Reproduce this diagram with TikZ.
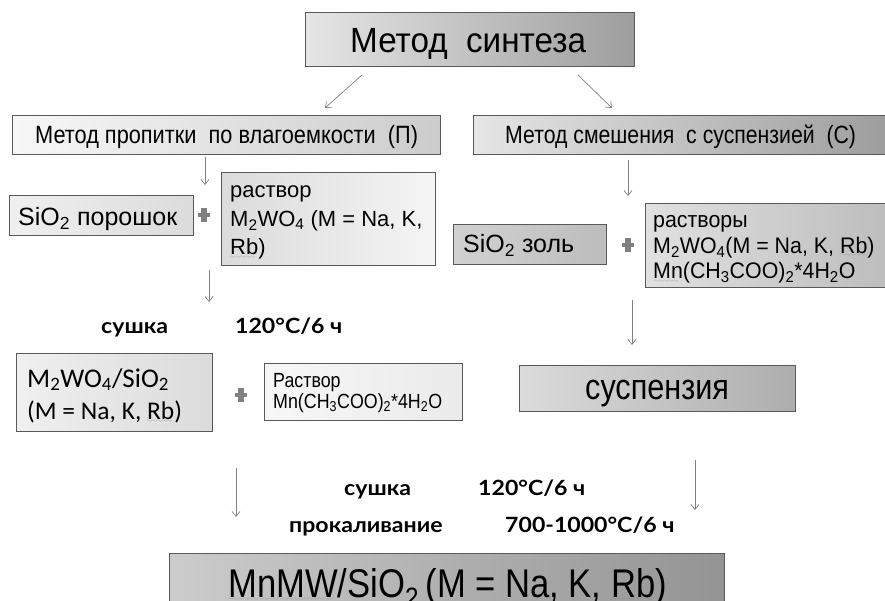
\documentclass[tikz,border=0pt]{standalone}
\usepackage{fontspec}
\setmainfont{Liberation Sans}
\newfontfamily\nrwA[FakeStretch=0.95]{Liberation Sans}
\newfontfamily\nrwB[FakeStretch=0.87]{Liberation Sans}
\newfontfamily\nrwC[FakeStretch=0.85]{Liberation Sans}
\newfontfamily\nrwD[FakeStretch=0.865]{Liberation Sans}
\newfontfamily\calib{Carlito}
\newfontfamily\lblfont[FakeStretch=1.1]{Lato Bold}
\font\wavyfont=lasy6
\newcommand\sqg[1]{\leavevmode\setbox0\hbox{#1}\rlap{\lower3.2pt\hbox to \wd0{\color{black!45}\leaders\hbox{\wavyfont\char58}\hfil}}\box0}
\usetikzlibrary{arrows.meta}
\tikzset{
  box/.style={draw=black!65, line width=1pt, rectangle, inner sep=0pt},
  darkbox/.style={box, left color=black!10, right color=black!38},
  lightbox/.style={box, left color=black!3, right color=black!20},
  txt/.style={inner sep=0pt, anchor=base west, align=left},
  arr/.style={draw=black!50, line width=0.7pt, -{Straight Barb[length=5pt,width=8pt]}},
  lbl/.style={font=\lblfont\fontsize{21}{23}\selectfont, inner sep=0pt, anchor=base west},
  plussign/.pic={\fill[black!50] (-2.6,-7) rectangle (2.6,7); \fill[black!50] (-6,-2.4) rectangle (6,2.4);}
}
\begin{document}
\begin{tikzpicture}[x=1pt,y=-1pt]
\useasboundingbox (0,0) rectangle (885,601);
\clip (0,0) rectangle (885,601);
% top
\node[darkbox, minimum width=329pt, minimum height=54pt] (top) at (469.5,40) {};
\node[txt, font=\nrwA\fontsize{35}{40}\selectfont] (topt) at (350,53) {Метод\ \ синтеза};
\node[lightbox, minimum width=428pt, minimum height=39pt] (P) at (226,135.5) {};
\node[txt, font=\nrwB\fontsize{25}{28}\selectfont] (Pt) at (35,144) {Метод пропитки\ \ по влагоемкости\ \ (П)};
\node[darkbox, minimum width=412pt, minimum height=39pt] (C) at (679,135.5) {};
\node[txt, font=\nrwC\fontsize{25}{28}\selectfont] (Ct) at (505,144) {Метод смешения\ \ с суспензией\ \ (С)};
\coordinate (a1s) at (362,75); \coordinate (a1e) at (325,108);
\coordinate (a2s) at (578,75); \coordinate (a2e) at (612,108);
\draw[arr] (a1s) -- (a1e);
\draw[arr] (a2s) -- (a2e);
% left column
\coordinate (a3s) at (205,157); \coordinate (a3e) at (205,185);
\draw[arr] (a3s) -- (a3e);
\node[lightbox, left color=black!6, right color=black!14, minimum width=184pt, minimum height=40pt] (sip) at (101,216) {};
\node[txt, font=\fontsize{25}{28}\selectfont] (sipt) at (18,226) {SiO\textsubscript{2} порошок};
\pic at (204,215) {plussign};
\node[lightbox, left color=black!14, right color=black!4, minimum width=214pt, minimum height=93pt] (rs1) at (328,219.5) {};
\node[txt, font=\fontsize{22}{28.5}\selectfont] (rs1t) at (230,255) {раствор\\M\textsubscript{2}WO\textsubscript{4} (M = Na, K,\\\sqg{Rb})};
\coordinate (a4s) at (209,270); \coordinate (a4e) at (209,302);
\draw[arr] (a4s) -- (a4e);
\node[lbl] (s1) at (101,333) {сушка};
\node[lbl] (t1) at (235,333) {120°C/6 ч};
\node[lightbox, left color=black!6, right color=black!14, minimum width=196pt, minimum height=78pt] (mw) at (114.5,392) {};
\node[txt, font=\calib\fontsize{27}{30}\selectfont] (mwt1) at (27,387) {M\textsubscript{2}WO\textsubscript{4}/SiO\textsubscript{2}};
\node[txt, font=\calib\fontsize{25.5}{27}\selectfont] (mwt2) at (27,419) {(M = Na, K, \sqg{Rb})};
\pic at (241,395) {plussign};
\node[lightbox, left color=black!3, right color=black!8, minimum width=198pt, minimum height=57pt] (mn1) at (363,391.5) {};
\node[txt, font=\nrwB\fontsize{20.5}{21}\selectfont] (mn1t) at (273,408) {Раствор\\Mn(CH\textsubscript{3}COO)\textsubscript{2}*4H\textsubscript{2}O};
% right column
\coordinate (a5s) at (628,160); \coordinate (a5e) at (628,196);
\draw[arr] (a5s) -- (a5e);
\node[darkbox, left color=black!18, right color=black!26, minimum width=153pt, minimum height=40pt] (siz) at (529.5,245) {};
\node[txt, font=\fontsize{25}{28}\selectfont] (sizt) at (463,253) {SiO\textsubscript{2} золь};
\pic at (628,245) {plussign};
\node[darkbox, left color=black!12, right color=black!26, minimum width=245pt, minimum height=84pt] (rs2) at (767.5,246) {};
\node[txt, font=\nrwA\fontsize{22.5}{25.5}\selectfont] (rs2t) at (653,279) {растворы\\M\textsubscript{2}WO\textsubscript{4}(M = Na, K, \sqg{Rb})\\\sqg{Mn}(CH\textsubscript{3}COO)\textsubscript{2}*4H\textsubscript{2}O};
\coordinate (a6s) at (632,300); \coordinate (a6e) at (632,345);
\draw[arr] (a6s) -- (a6e);
\node[darkbox, left color=black!14, right color=black!32, minimum width=276pt, minimum height=46pt] (susp) at (657,388) {};
\node[txt, font=\nrwC\fontsize{36}{38}\selectfont] (suspt) at (585,399) {суспензия};
% bottom
\coordinate (a7s) at (236,468); \coordinate (a7e) at (236,517);
\draw[arr] (a7s) -- (a7e);
\coordinate (a8s) at (695,460); \coordinate (a8e) at (695,510);
\draw[arr] (a8s) -- (a8e);
\node[lbl] (s2) at (344,495) {сушка};
\node[lbl] (t2) at (478,495) {120°C/6 ч};
\node[lbl] (s3) at (289,532) {прокаливание};
\node[lbl] (t3) at (505,532) {700-1000°C/6 ч};
\node[darkbox, left color=black!20, right color=black!42, minimum width=555pt, minimum height=60pt] (res) at (446.5,583) {};
\node[txt, font=\nrwD\fontsize{40}{42}\selectfont] (rest) at (228,597) {\sqg{MnMW}/SiO\textsubscript{2}\,(M = Na, K, \sqg{Rb})};
\end{tikzpicture}
\end{document}
